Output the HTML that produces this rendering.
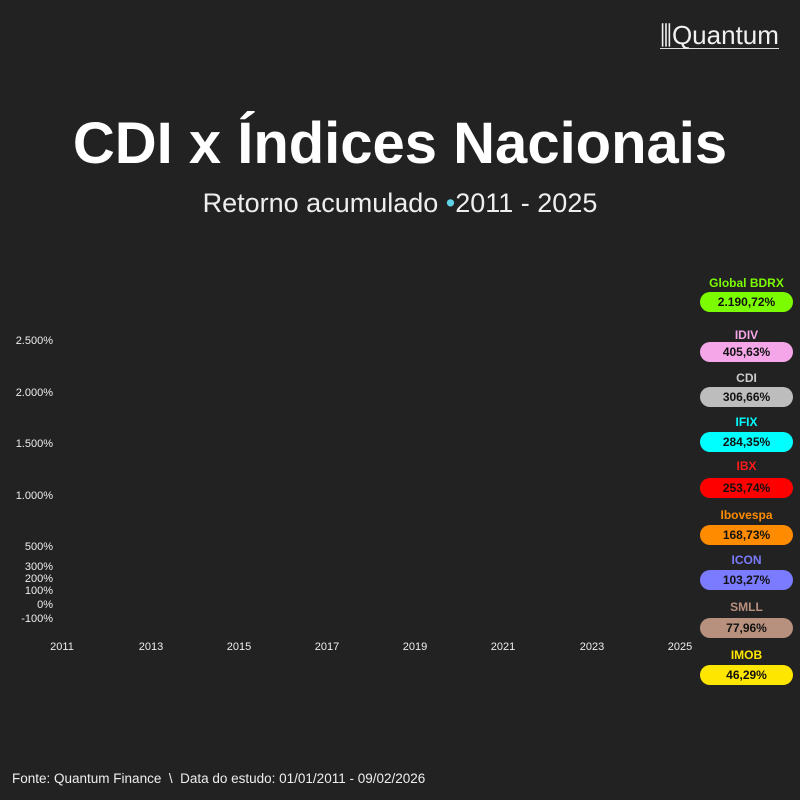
<!DOCTYPE html><html><head><style>
body{margin:0;width:800px;height:800px;background:#222222;font-family:"Liberation Sans","DejaVu Sans",sans-serif;color:#fff;position:relative;overflow:hidden}
.a{position:absolute}
.yl{position:absolute;right:747px;font-size:11px;color:#eee;text-align:right}
.xl{position:absolute;font-size:11px;color:#eee;transform:translateX(-50%)}
.lab{position:absolute;left:700px;width:93px;text-align:center;font-size:12px;font-weight:bold}
.bad{position:absolute;left:700px;width:93px;height:20px;border-radius:10px;text-align:center;font-size:12px;font-weight:bold;color:#111;line-height:20px}
</style></head><body>
<div class="a" style="left:660px;top:22px;font-size:26px;color:#f0f0f0;border-bottom:1px solid #ddd;line-height:26px">⫼Quantum</div>
<div class="a" style="left:0;width:800px;top:110px;text-align:center;font-size:58px;font-weight:bold">CDI x Índices Nacionais</div>
<div class="a" style="left:0;width:800px;top:188px;text-align:center;font-size:27px;color:#eee">Retorno acumulado <span style="color:#5fd3e8">•</span>2011 - 2025</div>
<div class="yl" style="top:335px">2.500%</div>
<div class="yl" style="top:387px">2.000%</div>
<div class="yl" style="top:438px">1.500%</div>
<div class="yl" style="top:490px">1.000%</div>
<div class="yl" style="top:541px">500%</div>
<div class="yl" style="top:561px">300%</div>
<div class="yl" style="top:573px">200%</div>
<div class="yl" style="top:585px">100%</div>
<div class="yl" style="top:599px">0%</div>
<div class="yl" style="top:613px">-100%</div>
<div class="xl" style="left:62px;top:641px">2011</div>
<div class="xl" style="left:151px;top:641px">2013</div>
<div class="xl" style="left:239px;top:641px">2015</div>
<div class="xl" style="left:327px;top:641px">2017</div>
<div class="xl" style="left:415px;top:641px">2019</div>
<div class="xl" style="left:503px;top:641px">2021</div>
<div class="xl" style="left:592px;top:641px">2023</div>
<div class="xl" style="left:680px;top:641px">2025</div>
<div class="lab" style="top:276px;color:#7cfc00">Global BDRX</div><div class="bad" style="top:292px;background:#7cfc00">2.190,72%</div>
<div class="lab" style="top:328px;color:#f4a6e8">IDIV</div><div class="bad" style="top:342px;background:#f4a6e8">405,63%</div>
<div class="lab" style="top:371px;color:#ccc">CDI</div><div class="bad" style="top:387px;background:#bdbdbd">306,66%</div>
<div class="lab" style="top:415px;color:#00ffff">IFIX</div><div class="bad" style="top:432px;background:#00ffff">284,35%</div>
<div class="lab" style="top:459px;color:#ff1a1a">IBX</div><div class="bad" style="top:478px;background:#ff0000">253,74%</div>
<div class="lab" style="top:508px;color:#ff8c00">Ibovespa</div><div class="bad" style="top:525px;background:#ff8c00">168,73%</div>
<div class="lab" style="top:553px;color:#7b7bff">ICON</div><div class="bad" style="top:570px;background:#7b7bff">103,27%</div>
<div class="lab" style="top:600px;color:#b8917e">SMLL</div><div class="bad" style="top:618px;background:#b8917e">77,96%</div>
<div class="lab" style="top:648px;color:#ffe600">IMOB</div><div class="bad" style="top:665px;background:#ffe600">46,29%</div>
<div class="a" style="left:12px;top:771px;font-size:13.5px;color:#eee">Fonte: Quantum Finance &nbsp;\&nbsp; Data do estudo: 01/01/2011 - 09/02/2026</div>
</body></html>
